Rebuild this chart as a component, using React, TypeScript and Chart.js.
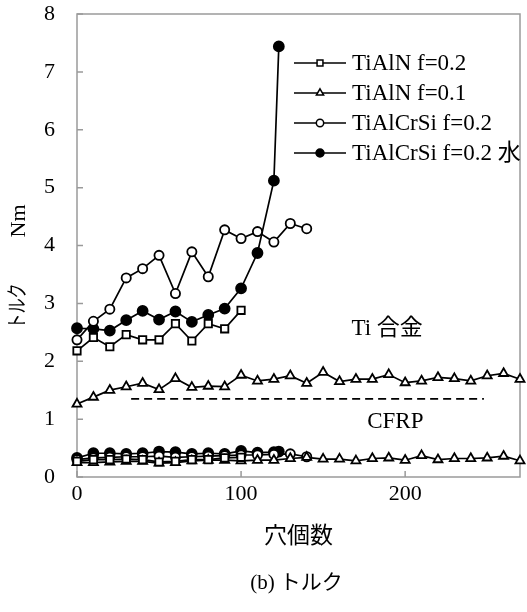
import React, { useEffect, useRef } from 'react';
import { Chart, registerables } from 'chart.js';

Chart.register(...registerables);

// ---- data ----
const yTicks = [0, 1, 2, 3, 4, 5, 6, 7, 8];
const xTicks = [0, 100, 200];
const xMin = 0;
const xMax = 270;
const yMin = 0;
const yMax = 8;

const legendLabels = ['TiAlN f=0.2', 'TiAlN f=0.1', 'TiAlCrSi f=0.2', 'TiAlCrSi f=0.2 水'];

const holesTiAlN02 = [0, 10, 20, 30, 40, 50, 60, 70, 80, 90, 100];
const tiAlN02Ti = [2.18, 2.41, 2.25, 2.46, 2.37, 2.37, 2.65, 2.35, 2.65, 2.56, 2.88];
const tiAlN02Cfrp = [0.27, 0.30, 0.30, 0.31, 0.30, 0.26, 0.27, 0.30, 0.30, 0.33, 0.34];

const holesTiAlN01 = [0, 10, 20, 30, 40, 50, 60, 70, 80, 90, 100, 110, 120, 130, 140, 150, 160, 170, 180, 190, 200, 210, 220, 230, 240, 250, 260, 270];
const tiAlN01Ti = [1.26, 1.38, 1.50, 1.56, 1.62, 1.51, 1.70, 1.55, 1.57, 1.56, 1.76, 1.66, 1.69, 1.75, 1.62, 1.81, 1.65, 1.69, 1.69, 1.77, 1.63, 1.66, 1.72, 1.70, 1.66, 1.75, 1.79, 1.69];
const tiAlN01Cfrp = [0.25, 0.25, 0.26, 0.27, 0.27, 0.24, 0.25, 0.28, 0.29, 0.29, 0.28, 0.29, 0.29, 0.32, 0.34, 0.31, 0.31, 0.28, 0.32, 0.33, 0.29, 0.37, 0.30, 0.32, 0.32, 0.33, 0.36, 0.28];

const holesCrSi = [0, 10, 20, 30, 40, 50, 60, 70, 80, 90, 100, 110, 120, 130, 140];
const crSiTi = [2.37, 2.69, 2.90, 3.44, 3.60, 3.83, 3.17, 3.89, 3.46, 4.27, 4.12, 4.24, 4.06, 4.38, 4.29];
const crSiCfrp = [0.30, 0.33, 0.34, 0.35, 0.35, 0.36, 0.34, 0.35, 0.36, 0.37, 0.38, 0.38, 0.39, 0.40, 0.35];

const holesWet = [0, 10, 20, 30, 40, 50, 60, 70, 80, 90, 100, 110, 120, 123];
const wetTi = [2.57, 2.56, 2.53, 2.71, 2.87, 2.72, 2.86, 2.68, 2.80, 2.91, 3.26, 3.87, 5.12, 7.44];
const wetCfrp = [0.33, 0.41, 0.41, 0.40, 0.41, 0.44, 0.43, 0.40, 0.41, 0.40, 0.45, 0.42, 0.43, 0.44];

const dashX = [33, 248];
const dashY = [1.35, 1.35];

const noteTexts = ['Ti 合金', 'CFRP'];
const noteX = [189, 194];
const noteY = [2.56, 0.95];

const xTitle = '穴個数';
const yTitleJa = 'トルク';
const yTitleUnit = 'Nm';
const caption = '(b) トルク';

// ---- styles ----
const FONT = '"Liberation Serif", "Times New Roman", "Noto Sans CJK JP", serif';
const AXIS_GRAY = '#9a9a9a';

type Mk = { style: string; r: number; fill: string };
const markers: Mk[] = [
  { style: 'rect', r: 5.2, fill: '#ffffff' },
  { style: 'triangle', r: 5.2, fill: '#ffffff' },
  { style: 'circle', r: 4.6, fill: '#ffffff' },
  { style: 'circle', r: 5, fill: '#000000' },
];

const zip = (xs: number[], ys: number[]) => xs.map((x, i) => ({ x, y: ys[i] }));

function drawMarker(ctx: CanvasRenderingContext2D, m: Mk, x: number, y: number, r: number) {
  ctx.beginPath();
  if (m.style === 'rect') {
    const s = r * Math.SQRT1_2;
    ctx.rect(x - s, y - s, 2 * s, 2 * s);
  } else if (m.style === 'triangle') {
    let a = 0;
    ctx.moveTo(x + Math.sin(a) * r, y - Math.cos(a) * r);
    a += (2 * Math.PI) / 3;
    ctx.lineTo(x + Math.sin(a) * r, y - Math.cos(a) * r);
    a += (2 * Math.PI) / 3;
    ctx.lineTo(x + Math.sin(a) * r, y - Math.cos(a) * r);
    ctx.closePath();
  } else {
    ctx.arc(x, y, r, 0, Math.PI * 2);
  }
  ctx.fillStyle = m.fill;
  ctx.fill();
  ctx.stroke();
}

const decorPlugin = {
  id: 'decor',
  beforeDatasetsDraw(chart: any) {
    const { ctx, chartArea: a, scales } = chart;
    ctx.save();
    ctx.strokeStyle = AXIS_GRAY;
    ctx.lineWidth = 1.5;
    ctx.strokeRect(a.left, a.top, a.right - a.left, a.bottom - a.top);
    ctx.beginPath();
    yTicks.forEach((v) => {
      const y = scales.y.getPixelForValue(v);
      ctx.moveTo(a.left, y);
      ctx.lineTo(a.left + 6, y);
    });
    xTicks.forEach((v) => {
      const x = scales.x.getPixelForValue(v);
      ctx.moveTo(x, a.bottom);
      ctx.lineTo(x, a.bottom - 6);
    });
    ctx.stroke();
    ctx.restore();
  },
  afterDraw(chart: any) {
    const { ctx, chartArea: a, scales } = chart;
    ctx.save();
    ctx.fillStyle = '#000';
    // annotations
    ctx.font = `23px ${FONT}`;
    ctx.textAlign = 'center';
    ctx.textBaseline = 'middle';
    noteTexts.forEach((t, i) => {
      ctx.fillText(t, scales.x.getPixelForValue(noteX[i]), scales.y.getPixelForValue(noteY[i]));
    });
    // legend
    const lx0 = a.left + 217;
    const lx1 = a.left + 269;
    const lmx = a.left + 243;
    legendLabels.forEach((lab, i) => {
      const y = a.top + 49 + i * 30;
      ctx.strokeStyle = '#000';
      ctx.lineWidth = 1.6;
      ctx.beginPath();
      ctx.moveTo(lx0, y);
      ctx.lineTo(lx1, y);
      ctx.stroke();
      ctx.lineWidth = 1.5;
      drawMarker(ctx, markers[i], lmx, y, markers[i].r * 0.8);
      ctx.fillStyle = '#000';
      ctx.textAlign = 'left';
      ctx.textBaseline = 'middle';
      ctx.font = `23px ${FONT}`;
      ctx.fillText(lab, lx1 + 6, y + 1);
    });
    // x title and caption
    const cx = (a.left + a.right) / 2;
    ctx.textAlign = 'center';
    ctx.font = `23px ${FONT}`;
    ctx.fillText(xTitle, cx, 537);
    ctx.font = `21px ${FONT}`;
    ctx.fillText(caption, cx - 2, 583);
    // y title (rotated)
    ctx.save();
    ctx.translate(19, 221);
    ctx.rotate(-Math.PI / 2);
    ctx.font = `22px ${FONT}`;
    ctx.fillText(yTitleUnit, 0, 0);
    ctx.restore();
    ctx.save();
    ctx.translate(18, 306);
    ctx.rotate(-Math.PI / 2);
    ctx.scale(0.72, 1);
    ctx.font = `21px ${FONT}`;
    ctx.fillText(yTitleJa, 0, 0);
    ctx.restore();
    ctx.restore();
  },
};

function series(label: string, xs: number[], ys: number[], m: Mk) {
  return {
    label,
    data: zip(xs, ys),
    borderColor: '#000',
    borderWidth: 1.7,
    pointStyle: m.style,
    pointRadius: m.r,
    pointBackgroundColor: m.fill,
    pointBorderColor: '#000',
    pointBorderWidth: 1.8,
    showLine: true,
    fill: false,
    tension: 0,
    clip: false as any,
  };
}

export default function App() {
  const ref = useRef<HTMLCanvasElement | null>(null);
  useEffect(() => {
    if (!ref.current) return;
    const datasets: any[] = [
      series(legendLabels[0] + ' CFRP', holesTiAlN02, tiAlN02Cfrp, markers[0]),
      series(legendLabels[1] + ' CFRP', holesTiAlN01, tiAlN01Cfrp, markers[1]),
      series(legendLabels[2] + ' CFRP', holesCrSi, crSiCfrp, markers[2]),
      series(legendLabels[3] + ' CFRP', holesWet, wetCfrp, markers[3]),
      series(legendLabels[0], holesTiAlN02, tiAlN02Ti, markers[0]),
      series(legendLabels[1], holesTiAlN01, tiAlN01Ti, markers[1]),
      series(legendLabels[2], holesCrSi, crSiTi, markers[2]),
      series(legendLabels[3], holesWet, wetTi, markers[3]),
      {
        label: 'dash',
        data: zip(dashX, dashY),
        borderColor: '#000',
        borderWidth: 1.8,
        borderDash: [8, 5],
        pointRadius: 0,
        showLine: true,
        fill: false,
      },
    ];
    const tickFont = { family: FONT, size: 22 };
    const chart = new Chart(ref.current, {
      type: 'scatter',
      data: { datasets },
      plugins: [decorPlugin],
      options: {
        animation: false,
        responsive: false,
        devicePixelRatio: 1,
        layout: { padding: { left: 0, top: 14, right: 6, bottom: 0 } },
        plugins: { legend: { display: false }, tooltip: { enabled: false } },
        scales: {
          x: {
            type: 'linear',
            min: xMin,
            max: xMax,
            grid: { display: false, drawTicks: false },
            border: { display: false },
            ticks: { color: '#000', font: tickFont, padding: 4 },
            afterBuildTicks: (s: any) => {
              s.ticks = xTicks.map((v) => ({ value: v }));
            },
            afterFit: (s: any) => {
              s.height = 135;
              s.paddingLeft = 0;
              s.paddingRight = 0;
            },
          },
          y: {
            type: 'linear',
            min: yMin,
            max: yMax,
            grid: { display: false, drawTicks: false },
            border: { display: false },
            ticks: { color: '#000', font: tickFont, padding: 22 },
            afterBuildTicks: (s: any) => {
              s.ticks = yTicks.map((v) => ({ value: v }));
            },
            afterFit: (s: any) => {
              s.width = 77;
              s.paddingTop = 0;
              s.paddingBottom = 0;
            },
          },
        },
      } as any,
    });
    return () => chart.destroy();
  }, []);
  return (
    <div style={{ position: 'fixed', left: 0, top: 0, width: 527, height: 612, background: '#fff' }}>
      <canvas ref={ref} width={527} height={612} style={{ width: 527, height: 612, display: 'block' }} />
    </div>
  );
}
